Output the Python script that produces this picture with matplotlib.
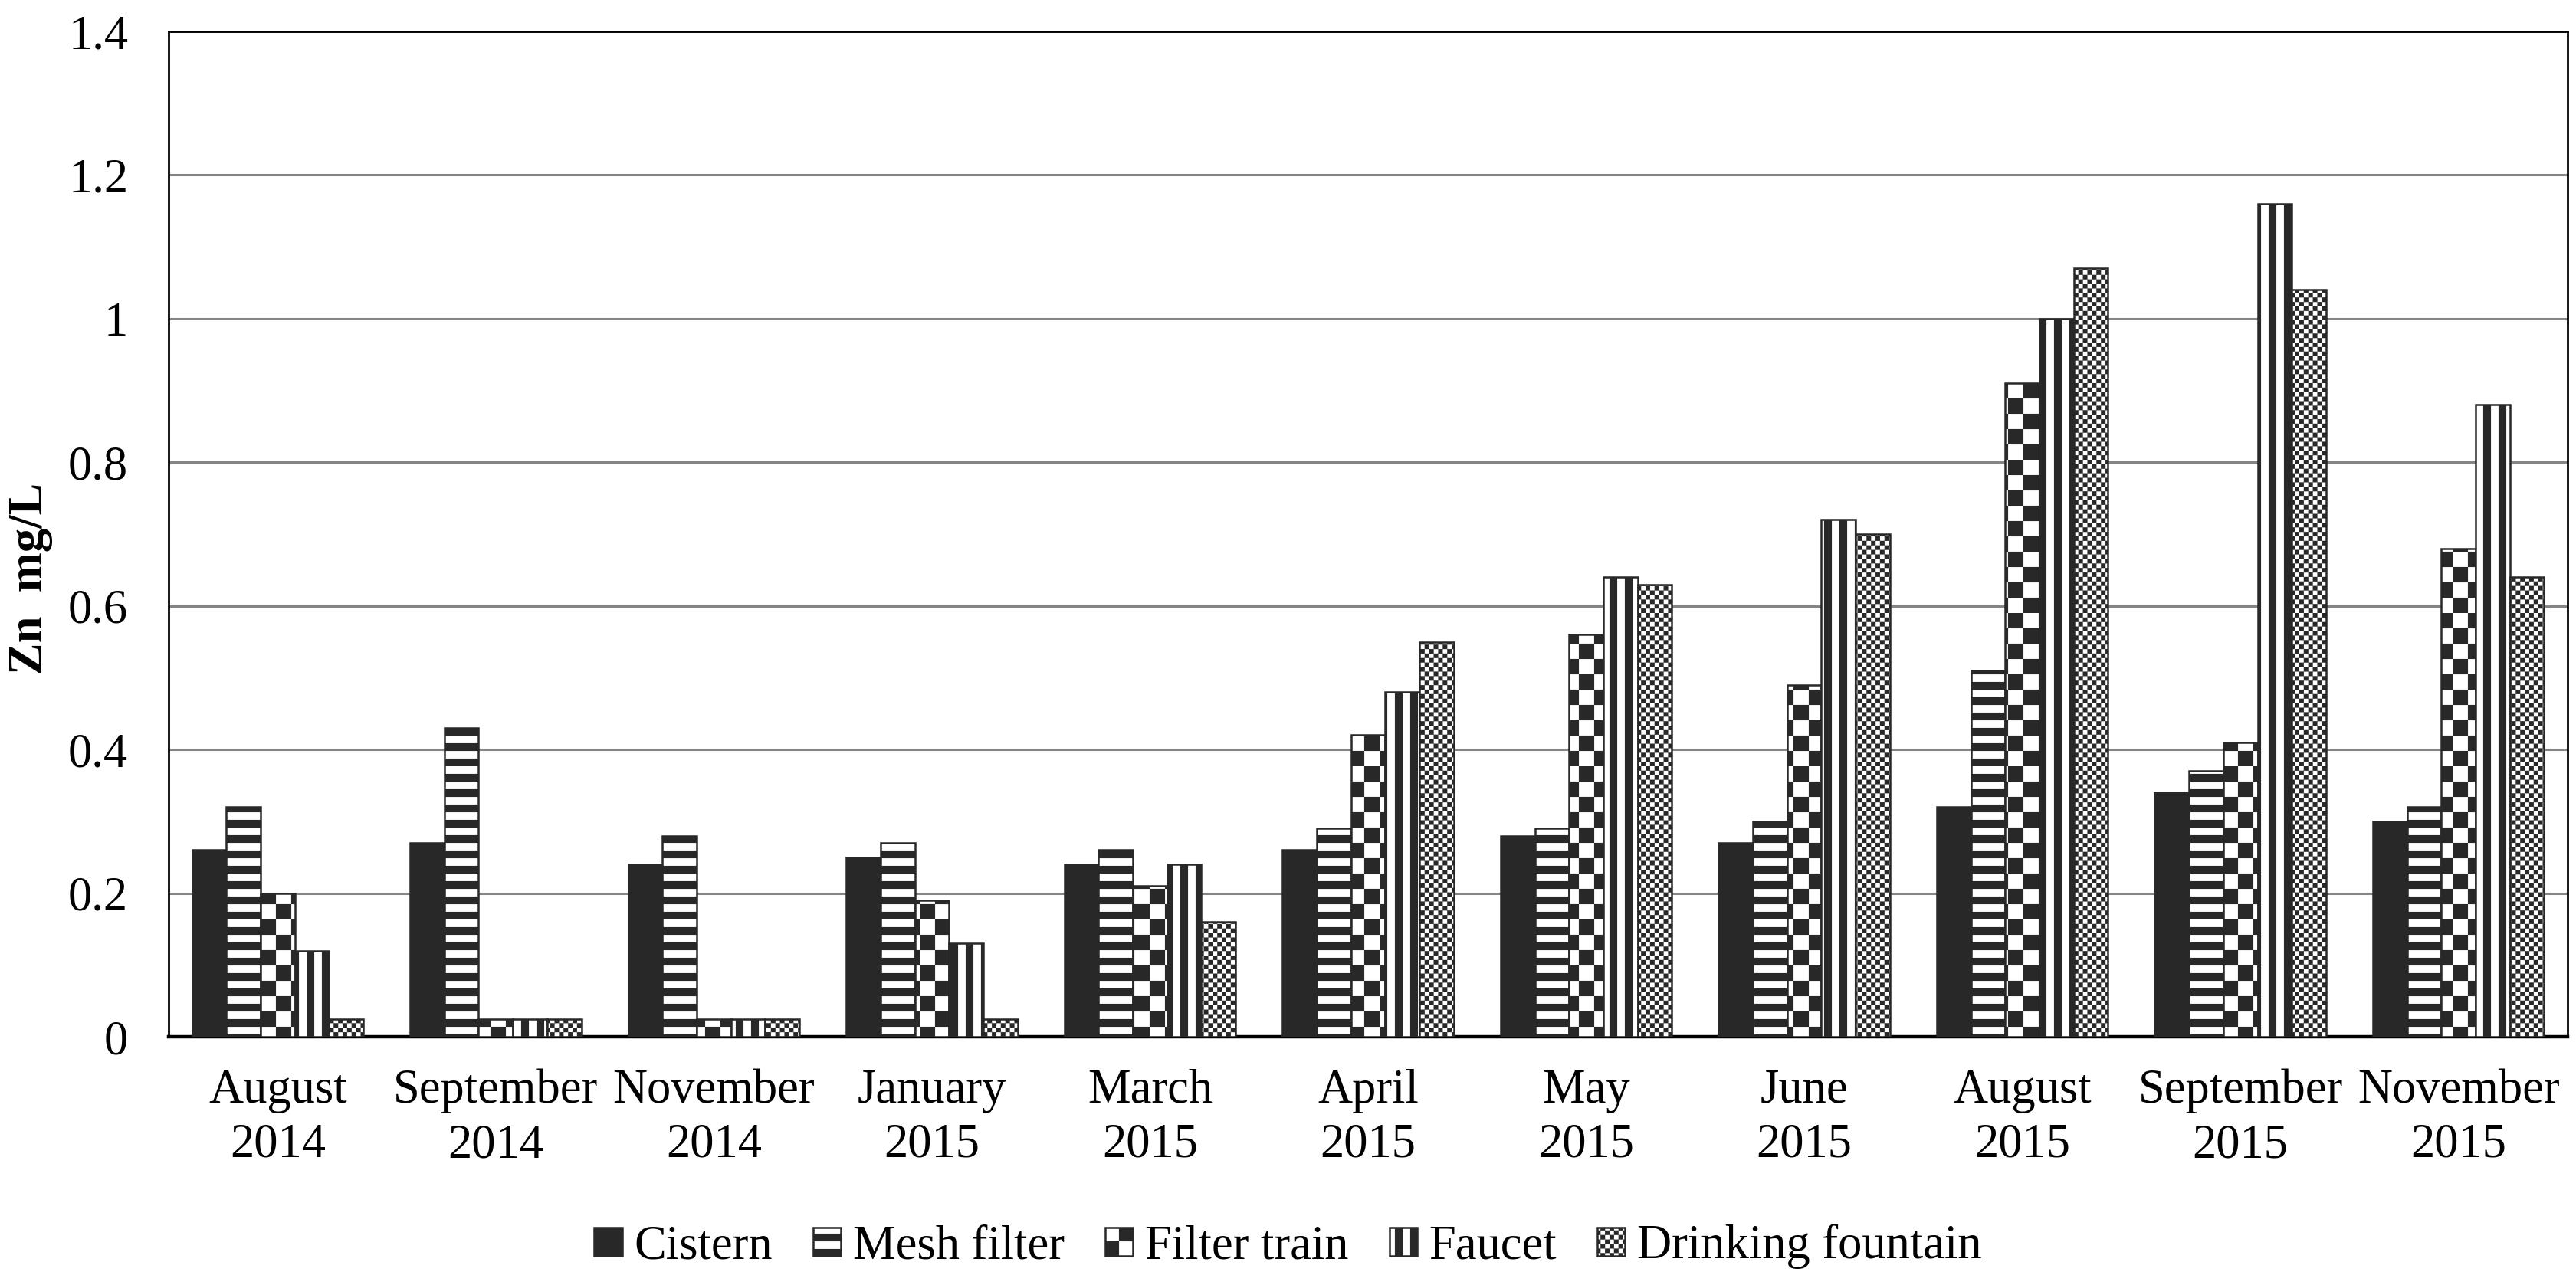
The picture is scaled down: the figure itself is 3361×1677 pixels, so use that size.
import numpy as np
import matplotlib
matplotlib.use("Agg")
import matplotlib.pyplot as plt
import matplotlib.hatch as mhatch
from matplotlib.path import Path

# ---------------- data ----------------
categories = ["August\n2014", "September\n2014", "November\n2014", "January\n2015",
              "March\n2015", "April\n2015", "May\n2015", "June\n2015",
              "August\n2015", "September\n2015", "November\n2015"]
series_names = ["Cistern", "Mesh filter", "Filter train", "Faucet", "Drinking fountain"]
cistern = [0.26, 0.27, 0.24, 0.25, 0.24, 0.26, 0.28, 0.27, 0.32, 0.34, 0.30]
mesh_filter = [0.32, 0.43, 0.28, 0.27, 0.26, 0.29, 0.29, 0.30, 0.51, 0.37, 0.32]
filter_train = [0.20, 0.025, 0.025, 0.19, 0.21, 0.42, 0.56, 0.49, 0.91, 0.41, 0.68]
faucet = [0.12, 0.025, 0.025, 0.13, 0.24, 0.48, 0.64, 0.72, 1.00, 1.16, 0.88]
fountain = [0.025, 0.025, 0.025, 0.025, 0.16, 0.55, 0.63, 0.70, 1.07, 1.04, 0.64]
y_ticks = [0, 0.2, 0.4, 0.6, 0.8, 1.0, 1.2, 1.4]
y_ticklabels = ["0", "0.2", "0.4", "0.6", "0.8", "1", "1.2", "1.4"]

DARK = "#282828"


# ---------------- custom block hatches ----------------
class BlockHatch(mhatch.HatchPatternBase):
    def __init__(self, hatch, density):
        rects = []
        if '-' in hatch:
            n = 10
            for i in range(n):
                rects.append((0.0, i / n, 1.0, i / n + 0.5 / n))
        if '|' in hatch:
            n = 10
            for i in range(n):
                rects.append((i / n, 0.0, i / n + 0.5 / n, 1.0))
        if 'x' in hatch:
            rects += self._checker(10)
        if '.' in hatch:
            rects += self._checker(34)
        self.rects = rects
        self.num_vertices = 5 * len(rects)
        self.filled = True

    @staticmethod
    def _checker(n):
        out = []
        for i in range(n):
            for j in range(n):
                if (i + j) % 2 == 0:
                    out.append((i / n, j / n, (i + 1) / n, (j + 1) / n))
        return out

    def set_vertices_and_codes(self, vertices, codes):
        for k, (x0, y0, x1, y1) in enumerate(self.rects):
            vertices[5 * k:5 * k + 5] = [[x0, y0], [x1, y0], [x1, y1], [x0, y1], [x0, y0]]
            codes[5 * k] = Path.MOVETO
            codes[5 * k + 1:5 * k + 4] = Path.LINETO
            codes[5 * k + 4] = Path.CLOSEPOLY


mhatch._hatch_types[:] = [BlockHatch]

plt.rcParams['hatch.linewidth'] = 0.05
plt.rcParams['hatch.color'] = DARK
plt.rcParams['font.family'] = ['Liberation Serif', 'DejaVu Serif']
plt.rcParams['font.size'] = 22.5

W, H, DPI = 3361, 1677, 200
fig = plt.figure(figsize=(W / DPI, H / DPI), dpi=DPI)
ax = fig.add_axes([220 / W, 1 - 1353 / H, (3350 - 220) / W, (1353 - 41) / H])

series = [cistern, mesh_filter, filter_train, faucet, fountain]
faces = [DARK, "white", "white", "white", "white"]
hatches = [None, "-", "x", "|", "."]
x = np.arange(len(categories))
bw = 0.157
for i, (vals, name) in enumerate(zip(series, series_names)):
    ax.bar(x + (i - 2) * bw, vals, width=bw, color=faces[i], edgecolor=DARK,
           hatch=hatches[i], linewidth=0.9, label=name, zorder=3)

ax.set_xlim(-0.5, len(categories) - 0.5)
ax.set_ylim(0, 1.4)
ax.set_yticks(y_ticks)
ax.set_yticklabels(y_ticklabels)
ax.set_xticks(x)
ax.set_xticklabels(categories, linespacing=1.3)
ax.tick_params(axis='both', length=0, labelsize=22.5)
ax.tick_params(axis='y', pad=19)
ax.tick_params(axis='x', pad=15)
ax.yaxis.grid(True, color="#858585", linewidth=1.1, zorder=0)
ax.set_axisbelow(True)
for s in ['left', 'top', 'right']:
    ax.spines[s].set_linewidth(1.0)
    ax.spines[s].set_color('black')
ax.spines['bottom'].set_linewidth(1.6)
ax.spines['bottom'].set_color('black')

fig.text(40 / W, 1 - 755 / H, "Zn  mg/L", rotation=90, ha='center', va='center',
         fontsize=22.5, fontweight='bold')

leg = ax.legend(loc='center', bbox_to_anchor=(0.5, 1 - 1627 / H), bbox_transform=fig.transFigure,
                ncol=5, frameon=False, fontsize=22.5, handlelength=0.58, handleheight=0.55,
                handletextpad=0.25, columnspacing=0.85, borderaxespad=0)

fig.savefig("out.png", dpi=DPI)
